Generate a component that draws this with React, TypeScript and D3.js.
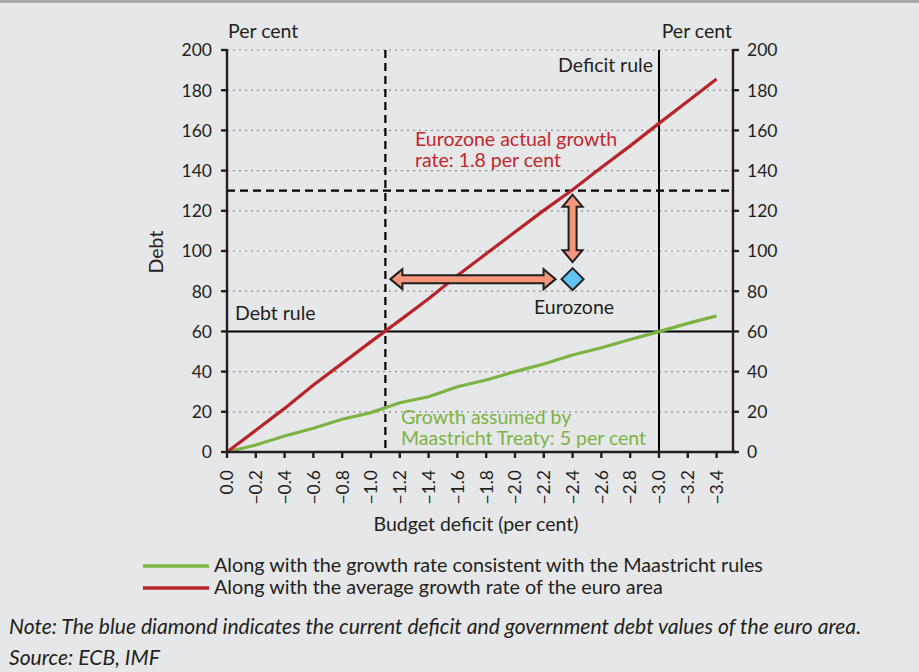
import React from "react";
import * as d3 from "d3";

// budget deficit steps (per cent), plotted as negative values
const deficits = [0, -0.2, -0.4, -0.6, -0.8, -1.0, -1.2, -1.4, -1.6, -1.8, -2.0, -2.2, -2.4, -2.6, -2.8, -3.0, -3.2, -3.4];
const debtEuroGrowth = [0, 10.8, 21.7, 33.3, 44.1, 54.9, 65.5, 76.2, 87.8, 98.6, 109.5, 120.2, 130.5, 141.5, 152.3, 163.5, 174.5, 185.6];
const debtMaastricht = [0, 3.5, 8, 11.8, 16.3, 19.6, 24.5, 27.5, 32.5, 35.8, 40, 43.8, 48.3, 51.9, 56, 59.9, 64, 67.7];
const yTicks = [0, 20, 40, 60, 80, 100, 120, 140, 160, 180, 200];

const debtRule = 60;
const deficitRule = -3.0;
const breakEvenDeficit = -1.1;
const breakEvenDebt = 130;
const eurozone = { deficit: -2.4, debt: 86 };

const FONT = "Lato, 'Open Sans', sans-serif";
const INK = "#231f20";
const RED = "#b8242a";
const RED_TEXT = "#c1272d";
const GREEN = "#7db343";
const SALMON = "#f4967a";
const LABEL = 19.5;

const fmtX = (v: number) => (v === 0 ? "0.0" : "\u2212" + Math.abs(v).toFixed(1));

function doubleArrow(x1: number, y1: number, x2: number, y2: number) {
  // arrow along an axis-aligned segment, heads at both ends
  const horiz = y1 === y2;
  const len = horiz ? x2 - x1 : y2 - y1;
  const head = 12, hw = 10, sw = 4;
  const pts: [number, number][] = [
    [0, 0], [head, -hw], [head, -sw], [len - head, -sw], [len - head, -hw],
    [len, 0], [len - head, hw], [len - head, sw], [head, sw], [head, hw],
  ];
  return (
    "M" +
    pts.map(([a, b]) => (horiz ? `${x1 + a},${y1 + b}` : `${x1 + b},${y1 + a}`)).join("L") +
    "Z"
  );
}

export default function App() {
  const left = 227, right = 733, top = 50, bottom = 452;
  const x = d3.scaleLinear().domain([0, -3.514]).range([left, right]);
  const y = d3.scaleLinear().domain([0, 200]).range([bottom, top]);

  const line = d3
    .line<number>()
    .x((_, i) => x(deficits[i]))
    .y((d) => y(d));

  const ex = x(eurozone.deficit);
  const ey = y(eurozone.debt);

  return (
    <svg
      width={919}
      height={672}
      style={{ position: "absolute", left: 0, top: 0, fontFamily: FONT }}
    >
      <rect width={919} height={672} fill="#e6e7e8" />
      <rect width={919} height={3} fill="#a7a9ac" />

      {/* dotted grid */}
      {yTicks
        .filter((t) => t !== 0 && t !== debtRule)
        .map((t) => (
          <line key={t} x1={left} x2={right} y1={y(t)} y2={y(t)} stroke="#8a8a8a" strokeWidth={1.2} strokeDasharray="2,4" />
        ))}

      {/* rules */}
      <line x1={left} x2={right} y1={y(debtRule)} y2={y(debtRule)} stroke="#000" strokeWidth={2} />
      <line x1={x(deficitRule)} x2={x(deficitRule)} y1={top} y2={bottom} stroke="#000" strokeWidth={2} />
      <line x1={x(breakEvenDeficit)} x2={x(breakEvenDeficit)} y1={top} y2={bottom} stroke="#000" strokeWidth={2.2} strokeDasharray="8,5" />
      <line x1={left} x2={right} y1={y(breakEvenDebt)} y2={y(breakEvenDebt)} stroke="#000" strokeWidth={2.2} strokeDasharray="8,5" />

      {/* series */}
      <path d={line(debtMaastricht) || ""} fill="none" stroke={GREEN} strokeWidth={3.2} />
      <path d={line(debtEuroGrowth) || ""} fill="none" stroke={RED} strokeWidth={3.2} />

      {/* axes */}
      <g stroke={INK} strokeWidth={2.4} fill="none">
        <line x1={left} x2={left} y1={top - 1} y2={bottom + 1} />
        <line x1={right} x2={right} y1={top - 1} y2={bottom + 1} />
        <line x1={left - 1} x2={right + 3} y1={bottom} y2={bottom} />
        {yTicks.map((t) => (
          <g key={t}>
            <line x1={left - 6} x2={left} y1={y(t)} y2={y(t)} />
            <line x1={right} x2={right + 6} y1={y(t)} y2={y(t)} />
          </g>
        ))}
        {deficits.map((d) => (
          <line key={d} x1={x(d)} x2={x(d)} y1={bottom} y2={bottom + 6} />
        ))}
      </g>

      <g fill={INK} fontSize={17.5}>
        {yTicks.map((t) => (
          <g key={t}>
            <text x={212} y={y(t)} dy="0.36em" textAnchor="end">{t}</text>
            <text x={747} y={y(t)} dy="0.36em">{t}</text>
          </g>
        ))}
        {deficits.map((d) => (
          <text key={d} transform={`translate(${x(d)},470) rotate(-90)`} dy="0.36em" textAnchor="end">
            {fmtX(d)}
          </text>
        ))}
      </g>

      <g fill={INK} fontSize={LABEL}>
        <text x={228} y={38}>Per cent</text>
        <text x={732} y={38} textAnchor="end">Per cent</text>
        <text transform="translate(163,252) rotate(-90)" textAnchor="middle">Debt</text>
        <text x={476} y={531} textAnchor="middle">Budget deficit (per cent)</text>
        <text x={653} y={72} textAnchor="end">Deficit rule</text>
        <text x={235} y={320}>Debt rule</text>
        <text x={574} y={314} textAnchor="middle">Eurozone</text>
      </g>

      <g fill={RED_TEXT} fontSize={LABEL}>
        <text x={415} y={146}>Eurozone actual growth</text>
        <text x={415} y={167}>rate: 1.8 per cent</text>
      </g>
      <g fill={GREEN} fontSize={LABEL}>
        <text x={401} y={424}>Growth assumed by</text>
        <text x={401} y={445}>Maastricht Treaty: 5 per cent</text>
      </g>

      {/* gaps to the thresholds */}
      <g fill={SALMON} stroke={INK} strokeWidth={2} strokeLinejoin="miter">
        <path d={doubleArrow(x(breakEvenDeficit) + 5, ey, ex - 17, ey)} />
        <path d={doubleArrow(ex, y(breakEvenDebt) + 4, ex, ey - 17)} />
      </g>
      <path
        d={`M${ex},${ey - 11}L${ex + 11},${ey}L${ex},${ey + 11}L${ex - 11},${ey}Z`}
        fill="#62c3ee"
        stroke={INK}
        strokeWidth={2}
      />

      {/* legend */}
      <line x1={143} x2={209} y1={566} y2={566} stroke={GREEN} strokeWidth={3.5} />
      <line x1={143} x2={209} y1={588} y2={588} stroke={RED} strokeWidth={3.5} />
      <g fill={INK} fontSize={19.8}>
        <text x={214} y={572}>Along with the growth rate consistent with the Maastricht rules</text>
        <text x={214} y={594}>Along with the average growth rate of the euro area</text>
      </g>

      <g fill={INK} fontSize={21.1} fontStyle="italic">
        <text x={9} y={634}>Note: The blue diamond indicates the current deficit and government debt values of the euro area.</text>
        <text x={9} y={665}>Source: ECB, IMF</text>
      </g>
    </svg>
  );
}
